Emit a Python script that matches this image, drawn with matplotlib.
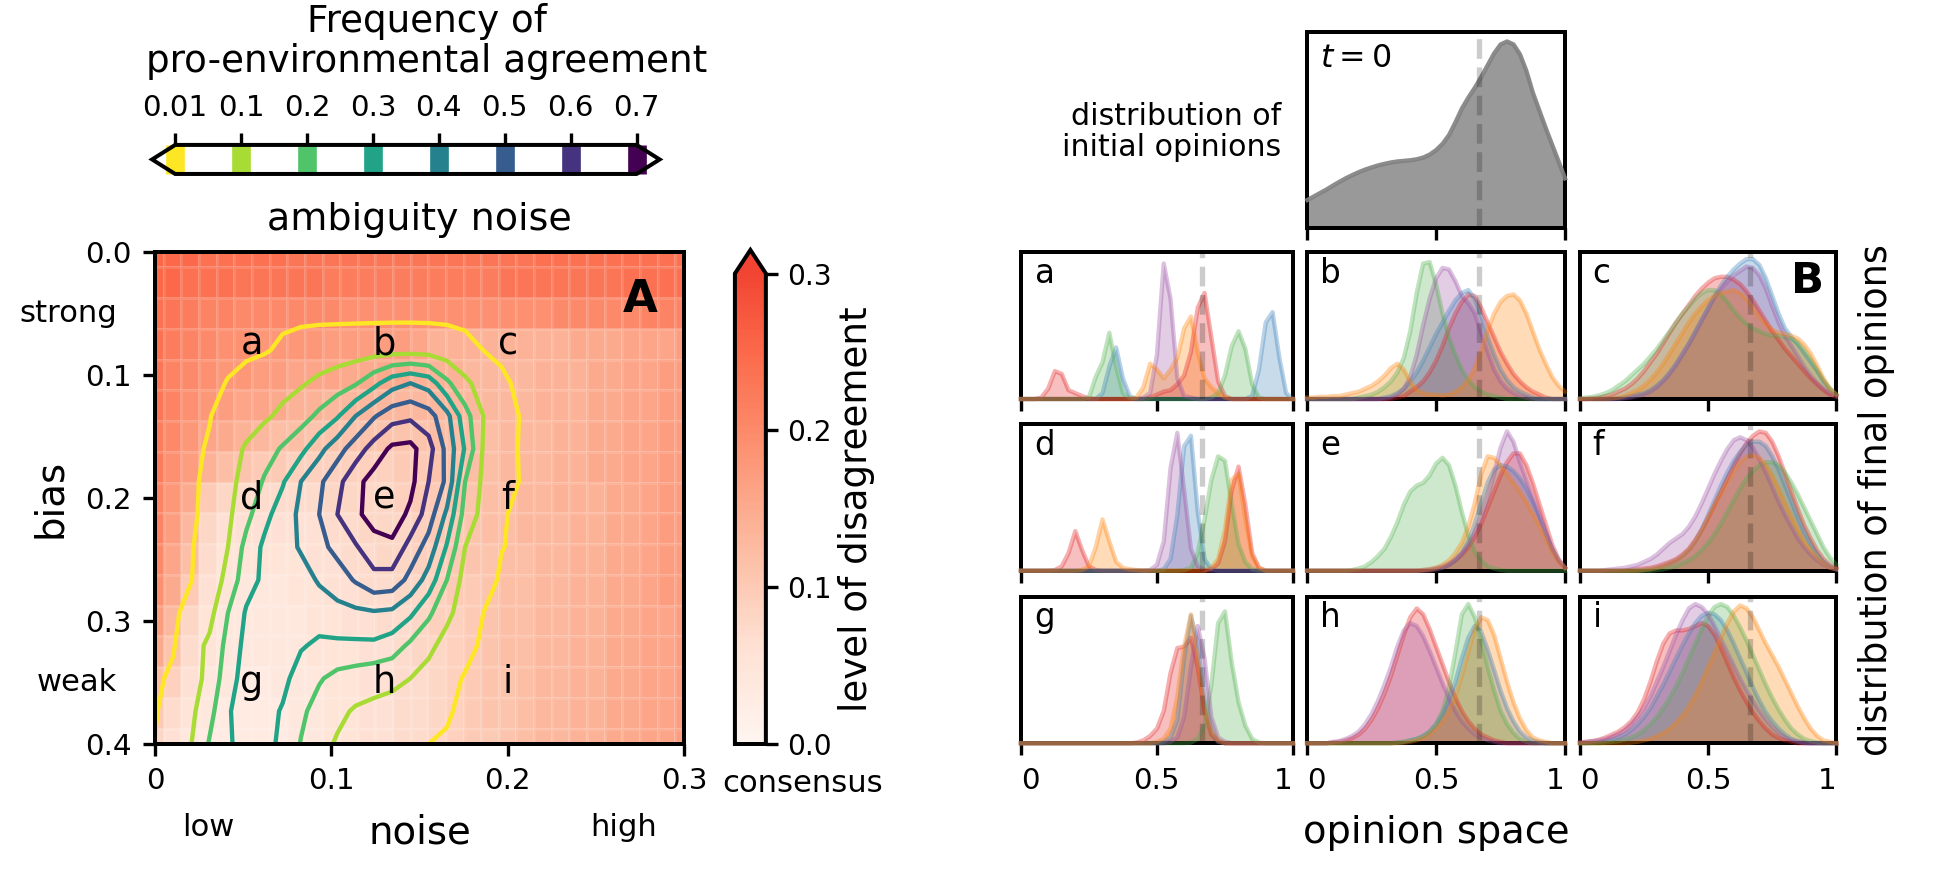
import numpy as np
import matplotlib
matplotlib.use("Agg")
import matplotlib.pyplot as plt
from matplotlib.colors import ListedColormap

plt.rcParams["font.family"] = ["DejaVu Sans"]
plt.rcParams["axes.linewidth"] = 1.2
plt.rcParams["xtick.major.width"] = 1.0
plt.rcParams["ytick.major.width"] = 1.0
plt.rcParams["xtick.labelsize"] = 8.8
plt.rcParams["ytick.labelsize"] = 8.8

# ---------------- panel A: level of disagreement (rows = bias 0..0.4, cols = noise 0..0.3)
noise_ticks = [0, 0.1, 0.2, 0.3]
noise_ticklabels = ["0", "0.1", "0.2", "0.3"]
bias_ticks = [0.0, 0.1, 0.2, 0.3, 0.4]
disagreement_ticks = [0.0, 0.1, 0.2, 0.3]

disagreement = [
    [0.25, 0.25, 0.25, 0.24, 0.24, 0.24, 0.24, 0.24, 0.23, 0.23, 0.23, 0.23, 0.23, 0.23, 0.23, 0.23, 0.23, 0.23, 0.23, 0.23, 0.23, 0.23, 0.24, 0.24, 0.24, 0.24, 0.24, 0.24, 0.24, 0.24, 0.24],
    [0.25, 0.25, 0.24, 0.24, 0.24, 0.23, 0.23, 0.23, 0.23, 0.23, 0.22, 0.22, 0.22, 0.22, 0.22, 0.22, 0.22, 0.22, 0.22, 0.22, 0.23, 0.23, 0.23, 0.23, 0.23, 0.23, 0.23, 0.24, 0.24, 0.24, 0.24],
    [0.24, 0.23, 0.22, 0.21, 0.21, 0.20, 0.20, 0.20, 0.20, 0.20, 0.20, 0.19, 0.19, 0.19, 0.19, 0.19, 0.19, 0.19, 0.19, 0.19, 0.19, 0.19, 0.19, 0.20, 0.20, 0.20, 0.20, 0.20, 0.21, 0.21, 0.21],
    [0.24, 0.22, 0.21, 0.20, 0.19, 0.19, 0.18, 0.18, 0.18, 0.18, 0.17, 0.17, 0.17, 0.17, 0.17, 0.16, 0.14, 0.14, 0.14, 0.14, 0.14, 0.14, 0.14, 0.14, 0.15, 0.15, 0.15, 0.16, 0.16, 0.16, 0.17],
    [0.23, 0.21, 0.20, 0.19, 0.18, 0.18, 0.17, 0.17, 0.16, 0.16, 0.16, 0.15, 0.15, 0.15, 0.15, 0.14, 0.14, 0.14, 0.13, 0.13, 0.13, 0.13, 0.14, 0.14, 0.14, 0.15, 0.15, 0.16, 0.16, 0.17, 0.17],
    [0.23, 0.21, 0.19, 0.18, 0.17, 0.16, 0.16, 0.15, 0.14, 0.14, 0.13, 0.13, 0.13, 0.13, 0.13, 0.13, 0.13, 0.13, 0.13, 0.13, 0.13, 0.13, 0.14, 0.14, 0.14, 0.15, 0.15, 0.16, 0.16, 0.17, 0.17],
    [0.22, 0.20, 0.18, 0.16, 0.15, 0.14, 0.13, 0.12, 0.12, 0.11, 0.11, 0.11, 0.11, 0.11, 0.11, 0.11, 0.12, 0.12, 0.12, 0.12, 0.13, 0.13, 0.13, 0.14, 0.14, 0.15, 0.15, 0.16, 0.16, 0.17, 0.17],
    [0.22, 0.19, 0.17, 0.14, 0.12, 0.11, 0.10, 0.10, 0.09, 0.09, 0.09, 0.09, 0.09, 0.09, 0.10, 0.10, 0.11, 0.11, 0.12, 0.12, 0.13, 0.13, 0.13, 0.14, 0.14, 0.15, 0.15, 0.16, 0.16, 0.17, 0.17],
    [0.21, 0.18, 0.15, 0.10, 0.08, 0.07, 0.07, 0.07, 0.07, 0.07, 0.08, 0.08, 0.08, 0.08, 0.09, 0.10, 0.10, 0.11, 0.11, 0.12, 0.12, 0.13, 0.13, 0.14, 0.14, 0.14, 0.15, 0.15, 0.16, 0.17, 0.17],
    [0.21, 0.17, 0.13, 0.08, 0.06, 0.06, 0.06, 0.06, 0.06, 0.06, 0.07, 0.07, 0.08, 0.08, 0.08, 0.09, 0.10, 0.10, 0.11, 0.12, 0.12, 0.13, 0.13, 0.13, 0.14, 0.14, 0.15, 0.15, 0.16, 0.17, 0.17],
    [0.20, 0.16, 0.12, 0.07, 0.05, 0.05, 0.05, 0.05, 0.05, 0.06, 0.06, 0.07, 0.07, 0.08, 0.08, 0.09, 0.09, 0.10, 0.11, 0.11, 0.12, 0.12, 0.13, 0.13, 0.14, 0.14, 0.15, 0.15, 0.16, 0.17, 0.17],
    [0.19, 0.15, 0.10, 0.06, 0.05, 0.04, 0.04, 0.04, 0.05, 0.05, 0.06, 0.06, 0.07, 0.07, 0.08, 0.08, 0.09, 0.10, 0.10, 0.11, 0.12, 0.12, 0.13, 0.13, 0.14, 0.14, 0.15, 0.15, 0.16, 0.17, 0.17],
    [0.17, 0.13, 0.08, 0.05, 0.04, 0.04, 0.04, 0.04, 0.04, 0.05, 0.05, 0.06, 0.06, 0.07, 0.07, 0.08, 0.09, 0.09, 0.10, 0.11, 0.12, 0.12, 0.13, 0.13, 0.14, 0.14, 0.15, 0.15, 0.16, 0.16, 0.17],
    [0.15, 0.11, 0.07, 0.05, 0.04, 0.04, 0.04, 0.04, 0.04, 0.05, 0.05, 0.05, 0.06, 0.06, 0.07, 0.08, 0.08, 0.09, 0.10, 0.11, 0.12, 0.12, 0.13, 0.13, 0.14, 0.14, 0.15, 0.15, 0.16, 0.16, 0.17],
    [0.12, 0.09, 0.06, 0.04, 0.04, 0.03, 0.03, 0.04, 0.04, 0.04, 0.05, 0.05, 0.06, 0.06, 0.07, 0.07, 0.08, 0.09, 0.10, 0.11, 0.11, 0.12, 0.13, 0.13, 0.14, 0.14, 0.15, 0.15, 0.16, 0.16, 0.17],
    [0.10, 0.07, 0.05, 0.04, 0.03, 0.03, 0.03, 0.03, 0.04, 0.04, 0.05, 0.05, 0.06, 0.06, 0.07, 0.07, 0.08, 0.09, 0.10, 0.11, 0.11, 0.12, 0.13, 0.13, 0.14, 0.14, 0.15, 0.15, 0.16, 0.16, 0.17],
    [0.08, 0.06, 0.04, 0.03, 0.03, 0.03, 0.03, 0.03, 0.04, 0.04, 0.05, 0.05, 0.06, 0.06, 0.07, 0.07, 0.08, 0.09, 0.10, 0.10, 0.11, 0.12, 0.13, 0.13, 0.14, 0.14, 0.15, 0.15, 0.16, 0.16, 0.17],
]

# frequency of pro-environmental agreement (16 rows bias 0..0.4, 30 cols noise 0..0.3)
freq_levels = [0.01, 0.1, 0.2, 0.3, 0.4, 0.5, 0.6, 0.7]
freq_ticklabels = ["0.01", "0.1", "0.2", "0.3", "0.4", "0.5", "0.6", "0.7"]
agreement = [
    [0] * 30,
    [0] * 30,
    [0] * 30,
    [0, 0, 0, 0, 0, 0, 0.005, 0.02, 0.035, 0.045, 0.05, 0.055, 0.06, 0.065, 0.065, 0.06, 0.045, 0.025, 0.01, 0, 0, 0, 0, 0, 0, 0, 0, 0, 0, 0],
    [0, 0, 0, 0, 0.012, 0.03, 0.05, 0.07, 0.09, 0.12, 0.15, 0.19, 0.27, 0.36, 0.40, 0.36, 0.22, 0.12, 0.06, 0.02, 0, 0, 0, 0, 0, 0, 0, 0, 0, 0],
    [0, 0, 0, 0.008, 0.035, 0.06, 0.085, 0.12, 0.16, 0.22, 0.29, 0.40, 0.49, 0.56, 0.58, 0.54, 0.43, 0.24, 0.10, 0.05, 0.008, 0, 0, 0, 0, 0, 0, 0, 0, 0],
    [0, 0, 0, 0.015, 0.06, 0.11, 0.16, 0.21, 0.27, 0.37, 0.46, 0.55, 0.64, 0.72, 0.73, 0.64, 0.47, 0.29, 0.09, 0.05, 0.005, 0, 0, 0, 0, 0, 0, 0, 0, 0],
    [0, 0, 0, 0.025, 0.07, 0.135, 0.21, 0.29, 0.40, 0.48, 0.57, 0.67, 0.74, 0.76, 0.73, 0.60, 0.48, 0.20, 0.08, 0.045, 0.008, 0, 0, 0, 0, 0, 0, 0, 0, 0],
    [0, 0, 0, 0.03, 0.08, 0.17, 0.27, 0.35, 0.42, 0.50, 0.60, 0.68, 0.74, 0.75, 0.68, 0.55, 0.38, 0.16, 0.07, 0.015, 0, 0, 0, 0, 0, 0, 0, 0, 0, 0],
    [0, 0, 0.005, 0.05, 0.10, 0.23, 0.32, 0.36, 0.41, 0.47, 0.53, 0.59, 0.66, 0.68, 0.56, 0.46, 0.29, 0.10, 0.05, 0.012, 0, 0, 0, 0, 0, 0, 0, 0, 0, 0],
    [0, 0, 0.009, 0.04, 0.13, 0.26, 0.32, 0.34, 0.36, 0.41, 0.45, 0.51, 0.57, 0.56, 0.47, 0.36, 0.20, 0.06, 0.04, 0, 0, 0, 0, 0, 0, 0, 0, 0, 0, 0],
    [0, 0, 0.03, 0.07, 0.20, 0.31, 0.33, 0.34, 0.34, 0.35, 0.37, 0.38, 0.39, 0.38, 0.32, 0.22, 0.12, 0.06, 0.01, 0, 0, 0, 0, 0, 0, 0, 0, 0, 0, 0],
    [0, 0.005, 0.06, 0.12, 0.23, 0.33, 0.35, 0.34, 0.31, 0.28, 0.28, 0.28, 0.28, 0.25, 0.18, 0.12, 0.07, 0.03, 0, 0, 0, 0, 0, 0, 0, 0, 0, 0, 0, 0],
    [0, 0.02, 0.06, 0.13, 0.26, 0.34, 0.35, 0.33, 0.25, 0.21, 0.17, 0.15, 0.13, 0.12, 0.10, 0.07, 0.03, 0.005, 0, 0, 0, 0, 0, 0, 0, 0, 0, 0, 0, 0],
    [0.005, 0.04, 0.08, 0.17, 0.29, 0.35, 0.34, 0.29, 0.22, 0.16, 0.12, 0.09, 0.08, 0.07, 0.05, 0.035, 0.015, 0, 0, 0, 0, 0, 0, 0, 0, 0, 0, 0, 0, 0],
    [0.012, 0.05, 0.10, 0.21, 0.29, 0.33, 0.33, 0.28, 0.195, 0.13, 0.09, 0.07, 0.05, 0.04, 0.025, 0.01, 0.005, 0, 0, 0, 0, 0, 0, 0, 0, 0, 0, 0, 0, 0],
]

point_letters = [["a", "b", "c"], ["d", "e", "f"], ["g", "h", "i"]]
point_noise = [0.055, 0.13, 0.2]
point_bias = [0.075, 0.2, 0.35]

# ---------------- panel B: kernel density curves, heights in % of panel height
opinion = np.linspace(0, 1, 41)
initial_mean = 0.665

t0_density = [14.4, 16.2, 18, 19.8, 21.8, 23.7, 25.5, 27.1, 28.6, 29.9, 31.0, 32.0, 32.8, 33.5, 34.0, 34.3, 34.6, 35.1, 36.0, 37.5,
              39.8, 43.0, 47.5, 54, 61, 66.5, 71.5, 77, 83, 89, 93.5, 95, 93.5, 88.5, 80, 69, 60, 51, 42.5, 34, 25.4]

red_a = [0, 0, 0, 1, 7, 19, 17, 6, 4, 2, 0.5, 0, 0, 0, 0, 0, 0, 0, 0, 1, 3, 5, 6, 10, 16, 32, 62, 72, 42, 12, 2, 0, 0, 0, 0, 0, 0, 0, 0, 0, 0]
blue_a = [0, 0, 0, 0, 0, 0, 0, 0, 0, 0, 0, 0, 4, 22, 35, 14, 2, 0, 0, 0, 0, 0, 0, 0, 0, 0, 0, 0, 0, 0, 0, 0, 0, 0, 2, 20, 52, 59, 28, 4, 0]
green_a = [0, 0, 0, 0, 0, 0, 0, 0, 0, 0, 1, 15, 25, 45, 22, 4, 0.5, 0, 0, 0, 0, 0, 0, 0, 0, 0, 0, 0, 1, 4, 16, 36, 46, 34, 10, 1, 0, 0, 0, 0, 0]
purple_a = [0, 0, 0, 0, 0, 0, 0, 0, 0, 0, 0, 0, 0, 0, 0, 0, 0, 0, 1, 4, 30, 92, 68, 14, 2, 1, 0, 0, 0, 0, 0, 0, 0, 0, 0, 0, 0, 0, 0, 0, 0]
orange_a = [0, 0, 0, 0, 0, 0, 0, 0, 0, 0, 0, 0, 0, 0, 0, 0, 0, 1, 8, 24, 20, 14, 20, 28, 48, 56, 32, 14, 8, 4, 1, 0, 0, 0, 0, 0, 0, 0, 0, 0, 0]

red_b = [0, 0, 0, 0, 0, 0, 0, 0, 0, 0, 0, 0, 0, 0, 1, 2, 5, 8, 12, 18, 26, 36, 48, 58, 66, 71, 70, 62, 52, 42, 32, 24, 17, 12, 8, 5, 3, 1, 0, 0, 0]
blue_b = [0, 0, 0, 0, 0, 0, 0, 0, 0, 0, 0, 0, 1, 2, 4, 7, 12, 18, 26, 35, 44, 52, 60, 67, 72, 74, 68, 56, 42, 30, 20, 13, 8, 5, 3, 1, 0, 0, 0, 0, 0]
green_b = [0, 0, 0, 0, 0, 0, 0, 0, 1, 2, 3, 5, 8, 12, 18, 28, 46, 72, 92, 93, 78, 58, 42, 30, 20, 13, 8, 5, 3, 2, 1, 0, 0, 0, 0, 0, 0, 0, 0, 0, 0]
purple_b = [0, 0, 0, 0, 0, 0, 0, 0, 0, 0, 0, 0, 0, 1, 3, 7, 15, 30, 50, 68, 82, 89, 88, 80, 70, 65, 58, 45, 32, 20, 12, 7, 4, 2, 1, 0, 0, 0, 0, 0, 0]
orange_b = [1, 1, 1.5, 1.5, 2, 2, 3, 4, 5, 7, 9, 12, 16, 21, 24, 20, 12, 6, 4, 3, 3, 2.5, 3, 5, 8, 13, 21, 33, 47, 58, 66, 70, 71, 67, 58, 46, 34, 24, 15, 9, 5]

red_c = [0, 0, 0.5, 1, 2, 3, 5, 7, 10, 14, 19, 25, 31, 38, 45, 52, 58, 64, 70, 75, 79, 82, 83, 83, 81, 78, 73, 67, 60, 53, 46, 40, 34, 29, 24, 19, 14, 10, 6, 3, 1.5]
blue_c = [0, 0, 0, 0, 0, 0, 0.5, 1, 2, 3, 4, 6, 9, 13, 18, 24, 31, 38, 46, 54, 62, 70, 77, 83, 88, 92, 95, 95, 91, 82, 70, 58, 48, 42, 37, 31, 25, 19, 12, 7, 3]
green_c = [0.5, 1, 1.5, 2.5, 4, 6, 9, 12, 16, 20, 24, 29, 34, 40, 46, 52, 58, 63, 68, 72, 74, 74, 71, 66, 60, 55, 51, 48, 46, 44, 43, 43, 42, 41, 38, 33, 27, 20, 13, 7, 3]
purple_c = [0, 0, 0, 0, 0, 0, 0, 0.5, 1, 2, 3, 5, 8, 12, 17, 23, 30, 37, 45, 53, 61, 69, 75, 80, 84, 87, 90, 89, 84, 75, 63, 52, 43, 36, 29, 22, 16, 11, 7, 4, 2]
orange_c = [0, 0, 0, 0, 0, 0.5, 1, 2, 4, 6, 9, 13, 18, 24, 31, 38, 45, 52, 58, 63, 67, 70, 72, 73, 74, 72, 68, 62, 56, 51, 47, 45, 44, 43, 41, 37, 31, 23, 14, 7, 3]

red_d = [0, 0, 0, 0, 0, 0.5, 3, 12, 27, 14, 3, 0.5, 0, 0, 0, 0, 0, 0, 0, 0, 0, 0, 0, 0, 0, 0, 0, 0, 1, 5, 20, 55, 71, 45, 12, 2, 0, 0, 0, 0, 0]
blue_d = [0, 0, 0, 0, 0, 0, 0, 0, 0, 0, 0, 0, 0, 0, 0, 0, 0, 0, 0, 0, 0, 1, 8, 38, 85, 92, 40, 8, 1, 0, 0, 0, 0, 0, 0, 0, 0, 0, 0, 0, 0]
green_d = [0, 0, 0, 0, 0, 0, 0, 0, 0, 0, 0, 0, 0, 0, 0, 0, 0, 0, 0, 0, 0, 0, 0, 0, 0.5, 2, 12, 35, 62, 78, 75, 45, 18, 6, 1, 0, 0, 0, 0, 0, 0]
purple_d = [0, 0, 0, 0, 0, 0, 0, 0, 0, 0, 0, 0, 0, 0, 0, 0, 0, 0, 0, 0.5, 4, 20, 70, 94, 55, 15, 3, 0.5, 0, 0, 0, 0, 0, 0, 0, 0, 0, 0, 0, 0, 0]
orange_d = [0, 0, 0, 0, 0, 0, 0, 0, 0, 0.5, 3, 16, 35, 20, 6, 2, 1, 0.5, 0, 0, 0, 0, 0, 0, 0, 0, 0, 0, 2, 8, 28, 62, 66, 35, 10, 2, 0, 0, 0, 0, 0]

red_e = [0, 0, 0, 0, 0, 0, 0, 0, 0, 0, 0, 0, 0, 0, 0, 0, 0, 0, 0, 0, 1, 2, 4, 7, 11, 16, 23, 32, 43, 54, 65, 74, 80, 80, 72, 60, 46, 32, 18, 8, 2]
blue_e = [0, 0, 0, 0, 0, 0, 0, 0, 0, 0, 0, 0, 0, 0, 0, 0, 0, 0, 0, 0.5, 1, 2, 4, 7, 12, 20, 32, 46, 60, 69, 72, 71, 68, 63, 56, 47, 37, 26, 15, 7, 2]
green_e = [0, 0, 0, 0, 0, 0, 0, 0.5, 1.5, 3, 6, 10, 15, 23, 33, 45, 54, 58, 60, 65, 73, 77, 72, 58, 40, 24, 13, 7, 3, 1.5, 0.5, 0, 0, 0, 0, 0, 0, 0, 0, 0, 0]
purple_e = [0, 0, 0, 0, 0, 0, 0, 0, 0, 0, 0, 0, 0, 0, 0, 0, 0, 0, 0.5, 1, 2, 3, 5, 8, 12, 18, 26, 36, 50, 66, 84, 95, 88, 74, 62, 50, 38, 26, 15, 7, 2]
orange_e = [0, 0, 0, 0, 0, 0, 0, 0, 0, 0, 0, 0, 0, 0, 0, 0, 0, 0, 0.5, 1, 2, 4, 7, 12, 19, 30, 46, 66, 78, 77, 72, 66, 60, 54, 47, 39, 31, 22, 13, 6, 2]

red_f = [0, 0, 0, 0, 0, 0, 0, 0, 0.5, 1, 1.5, 2, 3, 4.5, 6, 8, 11, 15, 21, 28, 36, 45, 54, 63, 72, 80, 87, 92, 95, 94, 88, 78, 66, 54, 42, 31, 22, 14, 8, 4, 2]
blue_f = [0, 0, 0, 0, 0, 0, 0, 0, 0, 0, 0.5, 1, 2, 3, 5, 7, 10, 14, 20, 28, 38, 48, 58, 67, 75, 81, 86, 88, 88, 85, 78, 69, 58, 47, 36, 26, 18, 11, 6, 3, 1]
green_f = [0, 0, 0, 0, 0, 0, 0, 0, 0, 0, 0, 0, 0.5, 1, 2, 3, 5, 7, 10, 14, 19, 25, 32, 40, 48, 56, 63, 68, 72, 74, 74, 72, 67, 60, 52, 43, 34, 25, 16, 9, 4]
purple_f = [0, 0, 0, 0, 0.5, 1, 1.5, 2, 3, 4, 6, 8, 11, 15, 19, 22, 25, 30, 37, 46, 56, 66, 75, 83, 89, 91, 89, 84, 76, 67, 57, 47, 38, 30, 22, 16, 11, 7, 4, 2, 1]
orange_f = [0, 0, 0, 0, 0, 0, 0, 0, 0, 0, 0.5, 1, 2, 3, 5, 7, 10, 14, 20, 27, 36, 45, 53, 61, 68, 74, 78, 79, 77, 72, 65, 56, 46, 37, 28, 20, 14, 9, 5, 2, 1]

red_g = [0, 0, 0, 0, 0, 0, 0, 0, 0, 0, 0, 0, 0, 0, 0, 0, 0, 0.5, 2, 5, 10, 22, 48, 65, 66, 72, 52, 22, 6, 1, 0, 0, 0, 0, 0, 0, 0, 0, 0, 0, 0]
blue_g = [0, 0, 0, 0, 0, 0, 0, 0, 0, 0, 0, 0, 0, 0, 0, 0, 0, 0, 0, 0, 0, 1, 4, 16, 58, 87, 68, 30, 8, 1, 0, 0, 0, 0, 0, 0, 0, 0, 0, 0, 0]
green_g = [0, 0, 0, 0, 0, 0, 0, 0, 0, 0, 0, 0, 0, 0, 0, 0, 0, 0, 0, 0, 0, 0, 0, 0, 0, 0.5, 3, 12, 40, 82, 90, 55, 28, 12, 3, 0.5, 0, 0, 0, 0, 0]
purple_g = [0, 0, 0, 0, 0, 0, 0, 0, 0, 0, 0, 0, 0, 0, 0, 0, 0, 0, 0, 0, 0, 0, 1, 4, 18, 52, 80, 58, 18, 4, 1, 0, 0, 0, 0, 0, 0, 0, 0, 0, 0]
orange_g = [0, 0, 0, 0, 0, 0, 0, 0, 0, 0, 0, 0, 0, 0, 0, 0, 0, 0, 0, 0, 1, 3, 10, 32, 66, 88, 58, 24, 8, 2, 0, 0, 0, 0, 0, 0, 0, 0, 0, 0, 0]

red_h = [0, 0, 0, 0, 0.5, 1, 2, 3.5, 6, 10, 16, 24, 34, 46, 60, 74, 86, 92, 88, 78, 66, 54, 42, 31, 22, 15, 10, 6, 4, 2, 1, 0, 0, 0, 0, 0, 0, 0, 0, 0, 0]
blue_h = [0, 0, 0, 0, 0, 0, 0, 0, 0, 0, 0, 0, 0, 0, 0.5, 1, 2, 3, 5, 8, 13, 20, 30, 42, 58, 72, 80, 76, 64, 50, 36, 24, 15, 8, 4, 2, 1, 0, 0, 0, 0]
green_h = [0, 0, 0, 0, 0, 0, 0, 0, 0, 0, 0, 0, 0, 0, 0.5, 1, 2, 3, 5, 8, 13, 22, 38, 62, 88, 95, 86, 70, 52, 36, 22, 13, 7, 3, 1, 0, 0, 0, 0, 0, 0]
purple_h = [0, 0, 0, 0, 1, 1.5, 3, 5, 8, 13, 20, 29, 40, 52, 66, 77, 82, 80, 73, 63, 52, 41, 31, 22, 15, 10, 6, 4, 2, 1, 0, 0, 0, 0, 0, 0, 0, 0, 0, 0, 0]
orange_h = [0, 0, 0, 0, 0, 0, 0, 0, 0, 0, 0, 0, 0, 0, 0, 0.5, 1, 2, 3.5, 6, 10, 15, 22, 32, 46, 62, 78, 86, 84, 74, 58, 42, 28, 17, 9, 4, 2, 1, 0, 0, 0]

red_i = [0.5, 1, 1.5, 2.5, 4, 6, 8, 11, 15, 21, 30, 42, 56, 68, 75, 77, 77, 78, 80, 82, 80, 74, 65, 55, 45, 36, 28, 21, 15, 10, 6, 3.5, 2, 1, 0, 0, 0, 0, 0, 0, 0]
blue_i = [0, 0, 0.5, 1, 1.5, 2.5, 4, 6, 9, 13, 18, 24, 32, 40, 49, 58, 67, 75, 82, 87, 89, 88, 84, 77, 68, 58, 48, 38, 29, 21, 15, 10, 6, 3, 1.5, 0.5, 0, 0, 0, 0, 0]
green_i = [0, 0, 0, 0, 0.5, 1, 1.5, 2.5, 4, 6, 9, 13, 18, 24, 31, 39, 48, 58, 68, 78, 87, 93, 95, 93, 87, 79, 70, 60, 50, 40, 31, 23, 16, 10, 6, 3, 1.5, 0.5, 0, 0, 0]
purple_i = [0.5, 1, 1.5, 2, 3, 4.5, 6.5, 9, 13, 18, 24, 32, 42, 52, 63, 74, 84, 92, 95, 93, 88, 80, 71, 62, 53, 44, 36, 29, 22, 16, 11, 7, 4, 2, 1, 0, 0, 0, 0, 0, 0]
orange_i = [0, 0, 0, 0, 0, 0, 0, 0, 0.5, 1, 2, 3, 5, 7, 10, 14, 19, 25, 33, 42, 52, 62, 72, 82, 90, 94, 92, 86, 77, 68, 60, 52, 43, 34, 25, 17, 10, 5, 2, 1, 0]

run_colors = ["#e41a1c", "#377eb8", "#4daf4a", "#984ea3", "#ff7f00"]
panel_curves = {
    "a": [red_a, blue_a, green_a, purple_a, orange_a],
    "b": [red_b, blue_b, green_b, purple_b, orange_b],
    "c": [red_c, blue_c, green_c, purple_c, orange_c],
    "d": [red_d, blue_d, green_d, purple_d, orange_d],
    "e": [red_e, blue_e, green_e, purple_e, orange_e],
    "f": [red_f, blue_f, green_f, purple_f, orange_f],
    "g": [red_g, blue_g, green_g, purple_g, orange_g],
    "h": [red_h, blue_h, green_h, purple_h, orange_h],
    "i": [red_i, blue_i, green_i, purple_i, orange_i],
}

fig = plt.figure(figsize=(8.0625, 3.63334), dpi=240)

# ---------------- panel A
axA = fig.add_axes([0.0801, 0.1468, 0.2734, 0.5642])
H = np.array(disagreement)
reds = ListedColormap(plt.cm.Reds(np.linspace(0, 0.6, 256)))
mesh = axA.pcolormesh(np.linspace(0, 0.3, H.shape[1]), np.linspace(0, 0.4, H.shape[0]), H,
                      shading="nearest", cmap=reds, vmin=0, vmax=0.3,
                      edgecolors=(1, 1, 1, 0.12), linewidth=0.4)
F = np.array(agreement)
cs = axA.contour(np.linspace(0, 0.3, F.shape[1]), np.linspace(0, 0.4, F.shape[0]), F,
                 levels=freq_levels, cmap="viridis_r", linewidths=1.3, extend="both")
axA.set_xlim(0, 0.3)
axA.set_ylim(0.4, 0)
axA.set_xticks(noise_ticks, noise_ticklabels)
axA.set_yticks(bias_ticks)
axA.set_xlabel("noise", fontsize=11.6)
axA.xaxis.set_label_coords(0.5, -0.202)
axA.xaxis.label.set_va("baseline")
axA.set_ylabel("bias", fontsize=11.6)
axA.yaxis.set_label_coords(-0.163, 0.5)
axA.text(-0.072, 0.05, "strong", transform=axA.get_yaxis_transform(), ha="right", va="center", fontsize=9.2)
axA.text(-0.072, 0.35, "weak", transform=axA.get_yaxis_transform(), ha="right", va="center", fontsize=9.2)
axA.text(0.03, -0.186, "low", transform=axA.get_xaxis_transform(), ha="center", va="baseline", fontsize=9.2)
axA.text(0.266, -0.186, "high", transform=axA.get_xaxis_transform(), ha="center", va="baseline", fontsize=9.2)
for r, b in enumerate(point_bias):
    for c, n in enumerate(point_noise):
        axA.text(n, b, point_letters[r][c], ha="center", va="center", fontsize=11)
axA.text(0.918, 0.878, "A", transform=axA.transAxes, ha="center", va="baseline",
         fontsize=13.5, fontweight="bold")

# colour bar: level of disagreement (axes box includes the extension triangle)
caxR = fig.add_axes([0.3798, 0.1468, 0.016, 0.5665])
cbR = fig.colorbar(mesh, cax=caxR, extend="max", ticks=disagreement_ticks)
cbR.outline.set_linewidth(1.2)
caxR.tick_params(labelsize=8.4, pad=3.0)
cbR.set_label("level of disagreement", fontsize=11.2)
caxR.yaxis.set_label_coords(3.32, 0.5)
caxR.text(2.2, -0.085, "consensus", transform=caxR.transAxes, ha="center", va="center", fontsize=9.2)

# colour bar: contour levels
caxT = fig.add_axes([0.0786, 0.8005, 0.2623, 0.0333])
cbT = fig.colorbar(cs, cax=caxT, orientation="horizontal")
cbT.add_lines(freq_levels, list(cs.get_edgecolor()), [5.6] * len(freq_levels), erase=True)
cbT.lines[-1].set_clip_on(False)
cbT.set_ticks(freq_levels, labels=freq_ticklabels)
cbT.outline.set_linewidth(1.2)
caxT.xaxis.set_ticks_position("top")
fig.text(0.2168, 1 - 230 / 872, "ambiguity noise", ha="center", va="baseline", fontsize=11.4)
fig.text(0.2204, 1 - 80 / 872, "Frequency of\npro-environmental agreement",
         ha="center", va="bottom", fontsize=11.2, linespacing=1.12)

# ---------------- panel B
def style_density_axes(ax, show_labels):
    ax.set_xlim(0, 1)
    ax.set_ylim(0, 100)
    ax.set_yticks([])
    ax.set_xticks([0, 0.5, 1])
    if show_labels:
        labels = ax.set_xticklabels(["0", "0.5", "1"])
        labels[0].set_ha("left")
        labels[-1].set_ha("right")
    else:
        ax.set_xticklabels([])
    ax.axvline(initial_mean, color="k", alpha=0.2, lw=1.6, ls="--", zorder=5)

ax0 = fig.add_axes([0.6757, 0.7382, 0.1331, 0.2255])
ax0.fill_between(opinion, t0_density, color="grey", alpha=0.8, lw=0)
ax0.plot(opinion, t0_density, color="grey", alpha=0.9, lw=1.3, clip_on=False, zorder=3)
style_density_axes(ax0, False)
ax0.text(0.049, 0.822, r"$t = 0$", transform=ax0.transAxes, ha="left", va="baseline", fontsize=9.5)
fig.text(0.662, 0.8834, "distribution of\ninitial opinions", ha="right", va="top",
         fontsize=9.0, linespacing=1.08)

col_pos = [(0.5276, 0.1406), (0.6755, 0.1333), (0.8165, 0.1325)]
row_pos = [(0.5424, 0.1689), (0.3455, 0.1682), (0.1476, 0.1681)]
letters = "abcdefghi"
for idx, letter in enumerate(letters):
    r, c = divmod(idx, 3)
    ax = fig.add_axes([col_pos[c][0], row_pos[r][0], col_pos[c][1], row_pos[r][1]])
    for dens, col in zip(panel_curves[letter], run_colors):
        ax.fill_between(opinion, dens, color=col, alpha=0.28, lw=0)
        ax.plot(opinion, dens, color=col, alpha=0.35, lw=1.3, clip_on=False, zorder=3)
    style_density_axes(ax, r == 2)
    ax.text(0.05, 0.79, letter, transform=ax.transAxes, ha="left", va="baseline", fontsize=9.8)
    if letter == "c":
        ax.text(0.889, 0.718, "B", transform=ax.transAxes, ha="center", va="baseline",
                fontsize=13, fontweight="bold")

fig.text(0.9697, 0.4266, "distribution of final opinions", rotation=90, ha="center", va="center", fontsize=11.0)
fig.text(0.7425, 0.0329, "opinion space", ha="center", va="baseline", fontsize=11.5)

fig.savefig("out.png", dpi=240)
